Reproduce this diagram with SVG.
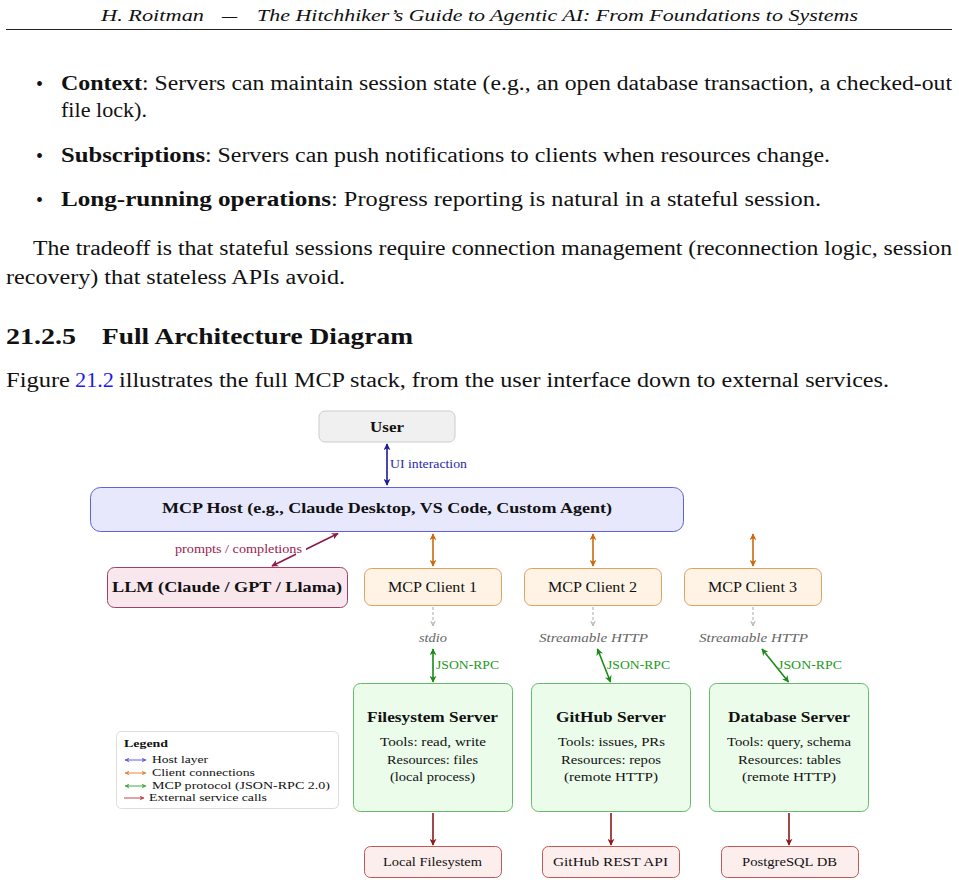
<svg xmlns="http://www.w3.org/2000/svg" width="959" height="885" viewBox="0 0 959 885">
<defs>
<style>
text{font-family:"Liberation Serif","Times New Roman",serif;fill:#111}
.body{font-size:20px}
.b{font-weight:bold}
.it{font-style:italic}
.node{font-size:14px}
.small{font-size:12px}
.lbl{font-size:11.5px}
.leg{font-size:11px}
.box-user{fill:#f0f0f0;stroke:#cccccc;stroke-width:1}
.box-host{fill:#e8e8fc;stroke:#6060d8;stroke-width:1}
.box-llm{fill:#f8e8ee;stroke:#a0406a;stroke-width:1}
.box-cli{fill:#fff3e6;stroke:#e0a060;stroke-width:1}
.box-srv{fill:#ebfceb;stroke:#66bb66;stroke-width:1}
.box-ext{fill:#fdeeee;stroke:#c05858;stroke-width:1}
.c-blue{stroke:#1a1a99;stroke-width:1.6;fill:none}
.c-orange{stroke:#cc6a10;stroke-width:1.6;fill:none}
.c-maroon{stroke:#8b1a4a;stroke-width:1.6;fill:none}
.c-green{stroke:#1a8a1a;stroke-width:1.6;fill:none}
.c-red{stroke:#8b1a1a;stroke-width:1.6;fill:none}
.c-gray{stroke:#aaaaaa;stroke-width:1;fill:none;stroke-dasharray:3 2}
</style>
<marker id="ah-blue" viewBox="0 0 10 10" refX="9" refY="5" markerWidth="7" markerHeight="7" markerUnits="userSpaceOnUse" orient="auto-start-reverse"><path d="M0,0 L10,5 L0,10 L3,5 Z" fill="#1a1a99"/></marker>
<marker id="ah-orange" viewBox="0 0 10 10" refX="9" refY="5" markerWidth="7" markerHeight="7" markerUnits="userSpaceOnUse" orient="auto-start-reverse"><path d="M0,0 L10,5 L0,10 L3,5 Z" fill="#cc6a10"/></marker>
<marker id="ah-maroon" viewBox="0 0 10 10" refX="9" refY="5" markerWidth="7" markerHeight="7" markerUnits="userSpaceOnUse" orient="auto-start-reverse"><path d="M0,0 L10,5 L0,10 L3,5 Z" fill="#8b1a4a"/></marker>
<marker id="ah-green" viewBox="0 0 10 10" refX="9" refY="5" markerWidth="7" markerHeight="7" markerUnits="userSpaceOnUse" orient="auto-start-reverse"><path d="M0,0 L10,5 L0,10 L3,5 Z" fill="#1a8a1a"/></marker>
<marker id="ah-red" viewBox="0 0 10 10" refX="9" refY="5" markerWidth="7" markerHeight="7" markerUnits="userSpaceOnUse" orient="auto-start-reverse"><path d="M0,0 L10,5 L0,10 L3,5 Z" fill="#8b1a1a"/></marker>
<marker id="ah-gray" viewBox="0 0 10 10" refX="9" refY="5" markerWidth="6" markerHeight="6" markerUnits="userSpaceOnUse" orient="auto"><path d="M0,1 L9,5 L0,9" fill="none" stroke="#aaaaaa" stroke-width="1.5"/></marker>
<marker id="lg-blue" viewBox="0 0 10 10" refX="9" refY="5" markerWidth="5" markerHeight="5" markerUnits="userSpaceOnUse" orient="auto-start-reverse"><path d="M0,0 L10,5 L0,10 L3,5 Z" fill="#6060d8"/></marker>
<marker id="lg-orange" viewBox="0 0 10 10" refX="9" refY="5" markerWidth="5" markerHeight="5" markerUnits="userSpaceOnUse" orient="auto-start-reverse"><path d="M0,0 L10,5 L0,10 L3,5 Z" fill="#dd8844"/></marker>
<marker id="lg-green" viewBox="0 0 10 10" refX="9" refY="5" markerWidth="5" markerHeight="5" markerUnits="userSpaceOnUse" orient="auto-start-reverse"><path d="M0,0 L10,5 L0,10 L3,5 Z" fill="#44aa44"/></marker>
<marker id="lg-red" viewBox="0 0 10 10" refX="9" refY="5" markerWidth="5" markerHeight="5" markerUnits="userSpaceOnUse" orient="auto-start-reverse"><path d="M0,0 L10,5 L0,10 L3,5 Z" fill="#c04848"/></marker>
</defs>
<rect width="959" height="885" fill="#ffffff"/>

<g id="page-text">
<text x="101" y="21" class="it" font-size="17" textLength="103" lengthAdjust="spacingAndGlyphs">H. Roitman</text>
<text x="222" y="21" class="it" font-size="17">—</text>
<text x="257" y="21" class="it" font-size="17" textLength="601" lengthAdjust="spacingAndGlyphs">The Hitchhiker’s Guide to Agentic AI: From Foundations to Systems</text>
<line x1="6" y1="29.5" x2="952" y2="29.5" stroke="#222" stroke-width="1"/>

<text x="36" y="91" class="body" font-size="26">•</text>
<text x="61" y="90" class="body b" textLength="81" lengthAdjust="spacingAndGlyphs">Context</text>
<text x="142" y="90" class="body" textLength="810" lengthAdjust="spacingAndGlyphs">: Servers can maintain session state (e.g., an open database transaction, a checked-out</text>
<text x="61" y="117" class="body" textLength="86" lengthAdjust="spacingAndGlyphs">file lock).</text>

<text x="36" y="163" class="body" font-size="26">•</text>
<text x="61" y="162" class="body b" textLength="144" lengthAdjust="spacingAndGlyphs">Subscriptions</text>
<text x="205" y="162" class="body" textLength="625" lengthAdjust="spacingAndGlyphs">: Servers can push notifications to clients when resources change.</text>

<text x="36" y="207" class="body" font-size="26">•</text>
<text x="61" y="206" class="body b" textLength="270" lengthAdjust="spacingAndGlyphs">Long-running operations</text>
<text x="331" y="206" class="body" textLength="490" lengthAdjust="spacingAndGlyphs">: Progress reporting is natural in a stateful session.</text>

<text x="33" y="255" class="body" textLength="919" lengthAdjust="spacingAndGlyphs">The tradeoff is that stateful sessions require connection management (reconnection logic, session</text>
<text x="6" y="284" class="body" textLength="339" lengthAdjust="spacingAndGlyphs">recovery) that stateless APIs avoid.</text>

<text x="6" y="344" class="b" font-size="23" textLength="70" lengthAdjust="spacingAndGlyphs">21.2.5</text>
<text x="102" y="344" class="b" font-size="23" textLength="311" lengthAdjust="spacingAndGlyphs">Full Architecture Diagram</text>

<text x="6" y="387" class="body" textLength="64" lengthAdjust="spacingAndGlyphs">Figure</text>
<text x="75" y="387" class="body" style="fill:#1a1aee" textLength="39" lengthAdjust="spacingAndGlyphs">21.2</text>
<text x="119" y="387" class="body" textLength="770" lengthAdjust="spacingAndGlyphs">illustrates the full MCP stack, from the user interface down to external services.</text>
</g>

<g id="connectors">
<line class="c-blue" x1="387" y1="444" x2="387" y2="485" marker-start="url(#ah-blue)" marker-end="url(#ah-blue)"/>
<line class="c-maroon" x1="338" y1="533.5" x2="272" y2="566" marker-start="url(#ah-maroon)" marker-end="url(#ah-maroon)"/>
<line class="c-orange" x1="433" y1="534" x2="433" y2="566" marker-start="url(#ah-orange)" marker-end="url(#ah-orange)"/>
<line class="c-orange" x1="593" y1="534" x2="593" y2="566" marker-start="url(#ah-orange)" marker-end="url(#ah-orange)"/>
<line class="c-orange" x1="753" y1="534" x2="753" y2="566" marker-start="url(#ah-orange)" marker-end="url(#ah-orange)"/>
<line class="c-gray" x1="433" y1="607" x2="433" y2="626" marker-end="url(#ah-gray)"/>
<line class="c-gray" x1="593" y1="607" x2="593" y2="626" marker-end="url(#ah-gray)"/>
<line class="c-gray" x1="753" y1="607" x2="753" y2="626" marker-end="url(#ah-gray)"/>
<line class="c-green" x1="433" y1="649" x2="433" y2="682" marker-start="url(#ah-green)" marker-end="url(#ah-green)"/>
<line class="c-green" x1="597.5" y1="649" x2="610.5" y2="682" marker-start="url(#ah-green)" marker-end="url(#ah-green)"/>
<line class="c-green" x1="762" y1="649" x2="788.5" y2="682" marker-start="url(#ah-green)" marker-end="url(#ah-green)"/>
<line class="c-red" x1="433" y1="813" x2="433" y2="845" marker-end="url(#ah-red)"/>
<line class="c-red" x1="611" y1="813" x2="611" y2="845" marker-end="url(#ah-red)"/>
<line class="c-red" x1="789" y1="813" x2="789" y2="845" marker-end="url(#ah-red)"/>
<rect x="296" y="543" width="10" height="13" fill="#ffffff"/>
<text x="390" y="468" class="lbl" style="fill:#2a2aaa" textLength="77" lengthAdjust="spacingAndGlyphs">UI interaction</text>
<text x="175" y="553" class="lbl" style="fill:#99224f" textLength="127" lengthAdjust="spacingAndGlyphs">prompts / completions</text>
<text x="419" y="642" class="small it" style="fill:#666666" textLength="28" lengthAdjust="spacingAndGlyphs">stdio</text>
<text x="539" y="642" class="small it" style="fill:#666666" textLength="109" lengthAdjust="spacingAndGlyphs">Streamable HTTP</text>
<text x="699" y="642" class="small it" style="fill:#666666" textLength="109" lengthAdjust="spacingAndGlyphs">Streamable HTTP</text>
<text x="436" y="669" class="small" style="fill:#229922" textLength="63" lengthAdjust="spacingAndGlyphs">JSON-RPC</text>
<text x="607" y="669" class="small" style="fill:#229922" textLength="63" lengthAdjust="spacingAndGlyphs">JSON-RPC</text>
<text x="778" y="669" class="small" style="fill:#229922" textLength="64" lengthAdjust="spacingAndGlyphs">JSON-RPC</text>
</g>

<g id="user">
<rect class="box-user" x="319" y="411" width="136" height="31" rx="6"/>
<text x="370" y="432" class="node b" textLength="34" lengthAdjust="spacingAndGlyphs">User</text>
</g>

<g id="host">
<rect class="box-host" x="90.5" y="487.5" width="593" height="44" rx="10"/>
<text x="162" y="513" class="node b" textLength="450" lengthAdjust="spacingAndGlyphs">MCP Host (e.g., Claude Desktop, VS Code, Custom Agent)</text>
</g>

<g id="llm">
<rect class="box-llm" x="107.5" y="567.5" width="240" height="40" rx="7"/>
<text x="112" y="592" class="node b" textLength="230" lengthAdjust="spacingAndGlyphs">LLM (Claude / GPT / Llama)</text>
</g>

<g id="client1">
<rect class="box-cli" x="364.5" y="568.5" width="137" height="37" rx="7"/>
<text x="388" y="592" class="node" textLength="89" lengthAdjust="spacingAndGlyphs">MCP Client 1</text>
</g>
<g id="client2">
<rect class="box-cli" x="524.5" y="568.5" width="137" height="37" rx="7"/>
<text x="548" y="592" class="node" textLength="89" lengthAdjust="spacingAndGlyphs">MCP Client 2</text>
</g>
<g id="client3">
<rect class="box-cli" x="684.5" y="568.5" width="137" height="37" rx="7"/>
<text x="708" y="592" class="node" textLength="89" lengthAdjust="spacingAndGlyphs">MCP Client 3</text>
</g>

<g id="server-fs">
<rect class="box-srv" x="353.5" y="683.5" width="159" height="128" rx="7"/>
<text x="367" y="722" class="node b" textLength="131" lengthAdjust="spacingAndGlyphs">Filesystem Server</text>
<text x="380" y="746" class="small" textLength="106" lengthAdjust="spacingAndGlyphs">Tools: read, write</text>
<text x="387" y="764" class="small" textLength="91" lengthAdjust="spacingAndGlyphs">Resources: files</text>
<text x="390" y="781" class="small" textLength="85" lengthAdjust="spacingAndGlyphs">(local process)</text>
</g>
<g id="server-gh">
<rect class="box-srv" x="531.5" y="683.5" width="159" height="128" rx="7"/>
<text x="556" y="722" class="node b" textLength="110" lengthAdjust="spacingAndGlyphs">GitHub Server</text>
<text x="558" y="746" class="small" textLength="107" lengthAdjust="spacingAndGlyphs">Tools: issues, PRs</text>
<text x="561" y="764" class="small" textLength="100" lengthAdjust="spacingAndGlyphs">Resources: repos</text>
<text x="564" y="781" class="small" textLength="94" lengthAdjust="spacingAndGlyphs">(remote HTTP)</text>
</g>
<g id="server-db">
<rect class="box-srv" x="709.5" y="683.5" width="159" height="128" rx="7"/>
<text x="728" y="722" class="node b" textLength="122" lengthAdjust="spacingAndGlyphs">Database Server</text>
<text x="727" y="746" class="small" textLength="124" lengthAdjust="spacingAndGlyphs">Tools: query, schema</text>
<text x="738" y="764" class="small" textLength="103" lengthAdjust="spacingAndGlyphs">Resources: tables</text>
<text x="742" y="781" class="small" textLength="94" lengthAdjust="spacingAndGlyphs">(remote HTTP)</text>
</g>

<g id="ext-fs">
<rect class="box-ext" x="364.5" y="846.5" width="137" height="31" rx="6"/>
<text x="383" y="866" class="small" textLength="99" lengthAdjust="spacingAndGlyphs">Local Filesystem</text>
</g>
<g id="ext-gh">
<rect class="box-ext" x="542.5" y="846.5" width="137" height="31" rx="6"/>
<text x="553" y="866" class="small" textLength="115" lengthAdjust="spacingAndGlyphs">GitHub REST API</text>
</g>
<g id="ext-db">
<rect class="box-ext" x="721.5" y="846.5" width="137" height="31" rx="6"/>
<text x="742" y="866" class="small" textLength="95" lengthAdjust="spacingAndGlyphs">PostgreSQL DB</text>
</g>

<g id="legend">
<rect x="116.5" y="731.5" width="222" height="77" rx="5" fill="#ffffff" stroke="#dddddd" stroke-width="1"/>
<text x="124" y="747" class="leg b" textLength="44" lengthAdjust="spacingAndGlyphs">Legend</text>
<line x1="125" y1="760" x2="146" y2="760" stroke="#6060d8" stroke-width="1" marker-start="url(#lg-blue)" marker-end="url(#lg-blue)"/>
<text x="152" y="763" class="leg" textLength="56" lengthAdjust="spacingAndGlyphs">Host layer</text>
<line x1="125" y1="773" x2="146" y2="773" stroke="#dd8844" stroke-width="1" marker-start="url(#lg-orange)" marker-end="url(#lg-orange)"/>
<text x="152" y="776" class="leg" textLength="103" lengthAdjust="spacingAndGlyphs">Client connections</text>
<line x1="125" y1="786" x2="146" y2="786" stroke="#44aa44" stroke-width="1" marker-start="url(#lg-green)" marker-end="url(#lg-green)"/>
<text x="152" y="789" class="leg" textLength="178" lengthAdjust="spacingAndGlyphs">MCP protocol (JSON-RPC 2.0)</text>
<line x1="124" y1="798" x2="144" y2="798" stroke="#c04848" stroke-width="1" marker-end="url(#lg-red)"/>
<text x="149" y="801" class="leg" textLength="118" lengthAdjust="spacingAndGlyphs">External service calls</text>
</g>
</svg>
